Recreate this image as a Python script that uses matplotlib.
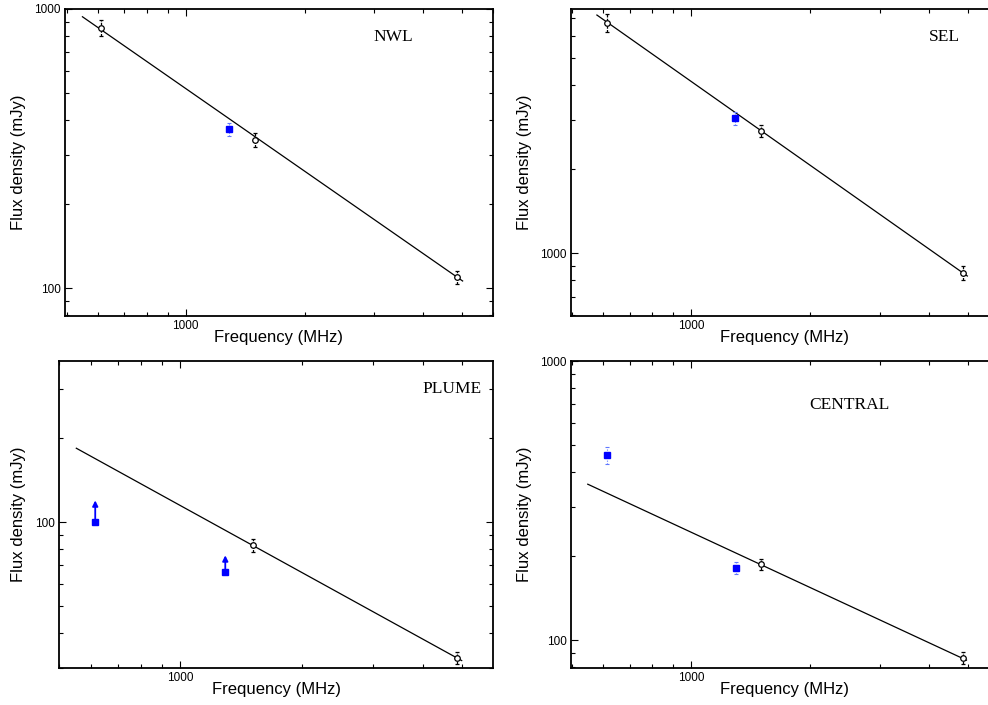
import matplotlib
matplotlib.use("Agg")
import matplotlib.pyplot as plt
from matplotlib.ticker import LogLocator, NullFormatter, FuncFormatter

# ---- data ----
# NWL
nwl_f = [610, 1500, 4860]
nwl_s = [857, 339, 109.5]
nwl_e = [60, 19, 6]
nwl_bf = [1285]
nwl_bs = [370]
nwl_be = [20]
nwl_fit_f = [548, 5026]
nwl_fit_s = [938, 106]

# SEL
sel_f = [613, 1507, 4870]
sel_s = [6706, 2742, 852]
sel_e = [500, 140, 47]
sel_bf = [1296]
sel_bs = [3048]
sel_be = [160]
sel_fit_f = [579, 4995]
sel_fit_s = [7145, 829]

# PLUME (blue points are lower limits)
plume_f = [1512, 4853]
plume_s = [82.5, 32.6]
plume_e = [4.5, 1.7]
plume_lim_f = [615, 1293]
plume_lim_s = [100, 66]
plume_lim_tip = [119.6, 76]
plume_fit_f = [552, 4992]
plume_fit_s = [184, 31.9]

# CENTRAL
cen_f = [1507, 4870]
cen_s = [187, 86.4]
cen_e = [9, 4.4]
cen_bf = [613, 1297]
cen_bs = [460, 181]
cen_be = [34, 9]
cen_fit_f = [549, 4970]
cen_fit_s = [362, 84.8]

SANS = "Liberation Sans"
SERIF = "Liberation Serif"


def style_axes(ax, xlim, ylim, ylab_x):
    ax.set_xscale("log")
    ax.set_yscale("log")
    ax.set_xlim(*xlim)
    ax.set_ylim(*ylim)
    for ax_ in (ax.xaxis, ax.yaxis):
        ax_.set_major_locator(LogLocator(base=10))
        ax_.set_minor_locator(LogLocator(base=10, subs=range(2, 10)))
        ax_.set_major_formatter(FuncFormatter(lambda v, p: "%d" % round(v)))
        ax_.set_minor_formatter(NullFormatter())
    ax.tick_params(which="both", direction="in", top=True, right=True,
                   labelsize=8.5, width=0.8)
    ax.tick_params(which="major", length=5, pad=3)
    ax.tick_params(which="minor", length=3)
    for lab in ax.get_xticklabels() + ax.get_yticklabels():
        lab.set_fontfamily(SANS)
    for sp in ax.spines.values():
        sp.set_linewidth(1.3)
    ax.set_xlabel("Frequency (MHz)", fontsize=12, family=SANS)
    ax.set_ylabel("Flux density (mJy)", fontsize=12, family=SANS)
    ax.xaxis.set_label_coords(0.5, -0.045)
    ax.yaxis.set_label_coords(ylab_x, 0.5)


def black_points(ax, f, s, e):
    _, caps, bars = ax.errorbar(f, s, yerr=e, fmt="o", mfc="white", mec="black",
                                ms=4, mew=0.9, ecolor="black", elinewidth=0.9,
                                capsize=1.5, capthick=0.9, zorder=3)
    bars[0].set_linestyle((0, (2, 1)))


def blue_points(ax, f, s, e):
    _, caps, bars = ax.errorbar(f, s, yerr=e, fmt="s", color="blue", ms=4.5,
                                ecolor="#5f78ff", elinewidth=0.8,
                                capsize=1.5, capthick=0.8, zorder=3)
    bars[0].set_linestyle((0, (1, 1.5)))


def fit_line(ax, f, s):
    ax.plot(f, s, color="black", lw=0.9, zorder=2)


fig = plt.figure(figsize=(9.88, 7.05), dpi=100)
W, H = 988, 705


def add_ax(x0, y0, x1, y1):
    return fig.add_axes([x0 / W, 1 - y1 / H, (x1 - x0) / W, (y1 - y0) / H])


# NWL
ax1 = add_ax(65, 9, 493, 316)
fit_line(ax1, nwl_fit_f, nwl_fit_s)
black_points(ax1, nwl_f, nwl_s, nwl_e)
blue_points(ax1, nwl_bf, nwl_bs, nwl_be)
style_axes(ax1, (495, 6000), (79.4, 1000), -0.092)
ax1.text(0.766, 0.91, "NWL", transform=ax1.transAxes, ha="center", va="center",
         fontsize=12.5, family=SERIF)

# SEL (right edge cut off by the picture border)
ax2 = add_ax(571, 9, 998, 316)
fit_line(ax2, sel_fit_f, sel_fit_s)
black_points(ax2, sel_f, sel_s, sel_e)
blue_points(ax2, sel_bf, sel_bs, sel_be)
style_axes(ax2, (498, 5970), (596, 7510), -0.091)
ax2.text(0.874, 0.91, "SEL", transform=ax2.transAxes, ha="center", va="center",
         fontsize=12.5, family=SERIF)

# PLUME
ax3 = add_ax(59, 361, 493, 668)
fit_line(ax3, plume_fit_f, plume_fit_s)
black_points(ax3, plume_f, plume_s, plume_e)
ax3.plot(plume_lim_f, plume_lim_s, "s", color="blue", ms=4.5, zorder=3)
for f, s, t in zip(plume_lim_f, plume_lim_s, plume_lim_tip):
    ax3.annotate("", xy=(f, t), xytext=(f, s),
                 arrowprops=dict(arrowstyle="-|>", color="blue", lw=1.3,
                                 mutation_scale=8, shrinkA=0, shrinkB=0))
style_axes(ax3, (500, 5970), (30, 378), -0.077)
ax3.text(0.905, 0.909, "PLUME", transform=ax3.transAxes, ha="center", va="center",
         fontsize=12.5, family=SERIF)

# CENTRAL (right edge cut off by the picture border)
ax4 = add_ax(571, 361, 998, 668)
fit_line(ax4, cen_fit_f, cen_fit_s)
black_points(ax4, cen_f, cen_s, cen_e)
blue_points(ax4, cen_bf, cen_bs, cen_be)
style_axes(ax4, (498, 5970), (79.5, 1000), -0.091)
ax4.text(0.653, 0.856, "CENTRAL", transform=ax4.transAxes, ha="center", va="center",
         fontsize=12.5, family=SERIF)

fig.savefig("out.png", dpi=100)
